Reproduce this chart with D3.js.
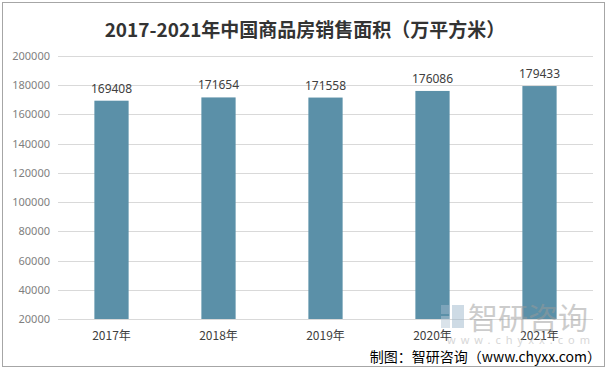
<!DOCTYPE html>
<html>
<head>
<meta charset="utf-8">
<script src="https://cdn.jsdelivr.net/npm/d3@7"></script>
<style>
  body { margin: 0; background: #fff; }
  text { font-family: "Microsoft YaHei", "Noto Sans CJK SC", "Noto Sans", sans-serif; }
</style>
</head>
<body>
<div id="vis"></div>
<script>
// chart data
const years = ["2017年", "2018年", "2019年", "2020年", "2021年"];
const areas = [169408, 171654, 171558, 176086, 179433];
const yTicks = [20000, 40000, 60000, 80000, 100000, 120000, 140000, 160000, 180000, 200000];

const FRAME_WIDTH = 610;
const FRAME_HEIGHT = 371;
const MARGINS = {left: 58, right: 17, top: 56, bottom: 52};
const VIS_WIDTH = FRAME_WIDTH - MARGINS.left - MARGINS.right;
const VIS_HEIGHT = FRAME_HEIGHT - MARGINS.top - MARGINS.bottom;

const FRAME = d3.select("#vis")
  .append("svg")
    .attr("width", FRAME_WIDTH)
    .attr("height", FRAME_HEIGHT);

// outer border
FRAME.append("rect")
  .attr("x", 2.5).attr("y", 2.5)
  .attr("width", 602).attr("height", 364)
  .attr("fill", "#fff")
  .attr("stroke", "#a6a6a6");

// title
FRAME.append("text")
  .attr("x", 305).attr("y", 37)
  .attr("text-anchor", "middle")
  .attr("font-size", "19px")
  .attr("font-weight", "bold")
  .attr("fill", "#333333")
  .text("2017-2021年中国商品房销售面积（万平方米）");

const X_SCALE = d3.scaleBand()
  .domain(years)
  .range([0, VIS_WIDTH])
  .paddingInner(0.68)
  .paddingOuter(0.34);

const Y_SCALE = d3.scaleLinear()
  .domain([20000, 200000])
  .range([VIS_HEIGHT, 0]);

const g = FRAME.append("g")
  .attr("transform", "translate(" + MARGINS.left + "," + MARGINS.top + ")");

// gridlines
g.append("g")
  .selectAll("line")
  .data(yTicks)
  .enter()
  .append("line")
    .attr("x1", 0).attr("x2", VIS_WIDTH)
    .attr("y1", (d) => Math.round(Y_SCALE(d)) + 0.5)
    .attr("y2", (d) => Math.round(Y_SCALE(d)) + 0.5)
    .attr("stroke", "#d9d9d9");

// y axis labels
const yAxis = g.append("g")
  .call(d3.axisLeft(Y_SCALE).tickValues(yTicks).tickSize(0).tickPadding(8).tickFormat(d3.format("d")));
yAxis.select(".domain").remove();
yAxis.selectAll("text")
  .attr("font-size", "11px")
  .attr("fill", "#7f7f7f")
  .style("font-family", "\"Noto Sans\", sans-serif");

// bars
g.selectAll(".bar")
  .data(areas)
  .enter()
  .append("rect")
    .attr("x", (d, i) => X_SCALE(years[i]))
    .attr("y", (d) => Y_SCALE(d))
    .attr("width", X_SCALE.bandwidth())
    .attr("height", (d) => VIS_HEIGHT - Y_SCALE(d))
    .attr("fill", "#5b90a8");

// value labels
g.selectAll(".val")
  .data(areas)
  .enter()
  .append("text")
    .attr("x", (d, i) => X_SCALE(years[i]) + X_SCALE.bandwidth() / 2)
    .attr("y", (d) => Y_SCALE(d) - 8)
    .attr("text-anchor", "middle")
    .attr("font-size", "12px")
    .attr("fill", "#404040")
    .style("font-family", "\"Noto Sans\", sans-serif")
    .text((d) => d);

// watermark
const wm = FRAME.append("g").attr("opacity", 0.5);
wm.append("rect").attr("x", 441).attr("y", 305).attr("width", 9).attr("height", 9).attr("fill", "#9fb8cc");
wm.append("rect").attr("x", 441).attr("y", 316).attr("width", 9).attr("height", 12).attr("fill", "#b7c9d6");
wm.append("rect").attr("x", 452).attr("y", 305).attr("width", 12).attr("height", 23).attr("fill", "#9fb8cc");
wm.append("text")
  .attr("x", 468).attr("y", 329)
  .attr("font-size", "30px")
  .attr("fill", "#9a9a9a")
  .text("智研咨询");
wm.append("text")
  .attr("x", 447).attr("y", 344)
  .attr("font-size", "11px")
  .attr("letter-spacing", "5px")
  .attr("fill", "#b0b0b0")
  .style("font-family", "\"Noto Sans\", sans-serif")
  .text("www.chyxx.com");

// x axis labels
const xAxis = g.append("g")
  .attr("transform", "translate(0," + VIS_HEIGHT + ")")
  .call(d3.axisBottom(X_SCALE).tickSize(0).tickPadding(12));
xAxis.select(".domain").remove();
xAxis.selectAll("text")
  .attr("font-size", "12px")
  .attr("fill", "#404040");

// source
FRAME.append("text")
  .attr("x", 601).attr("y", 362)
  .attr("text-anchor", "end")
  .attr("font-size", "14px")
  .attr("fill", "#000")
  .text("制图：智研咨询（www.chyxx.com）");
</script>
</body>
</html>
